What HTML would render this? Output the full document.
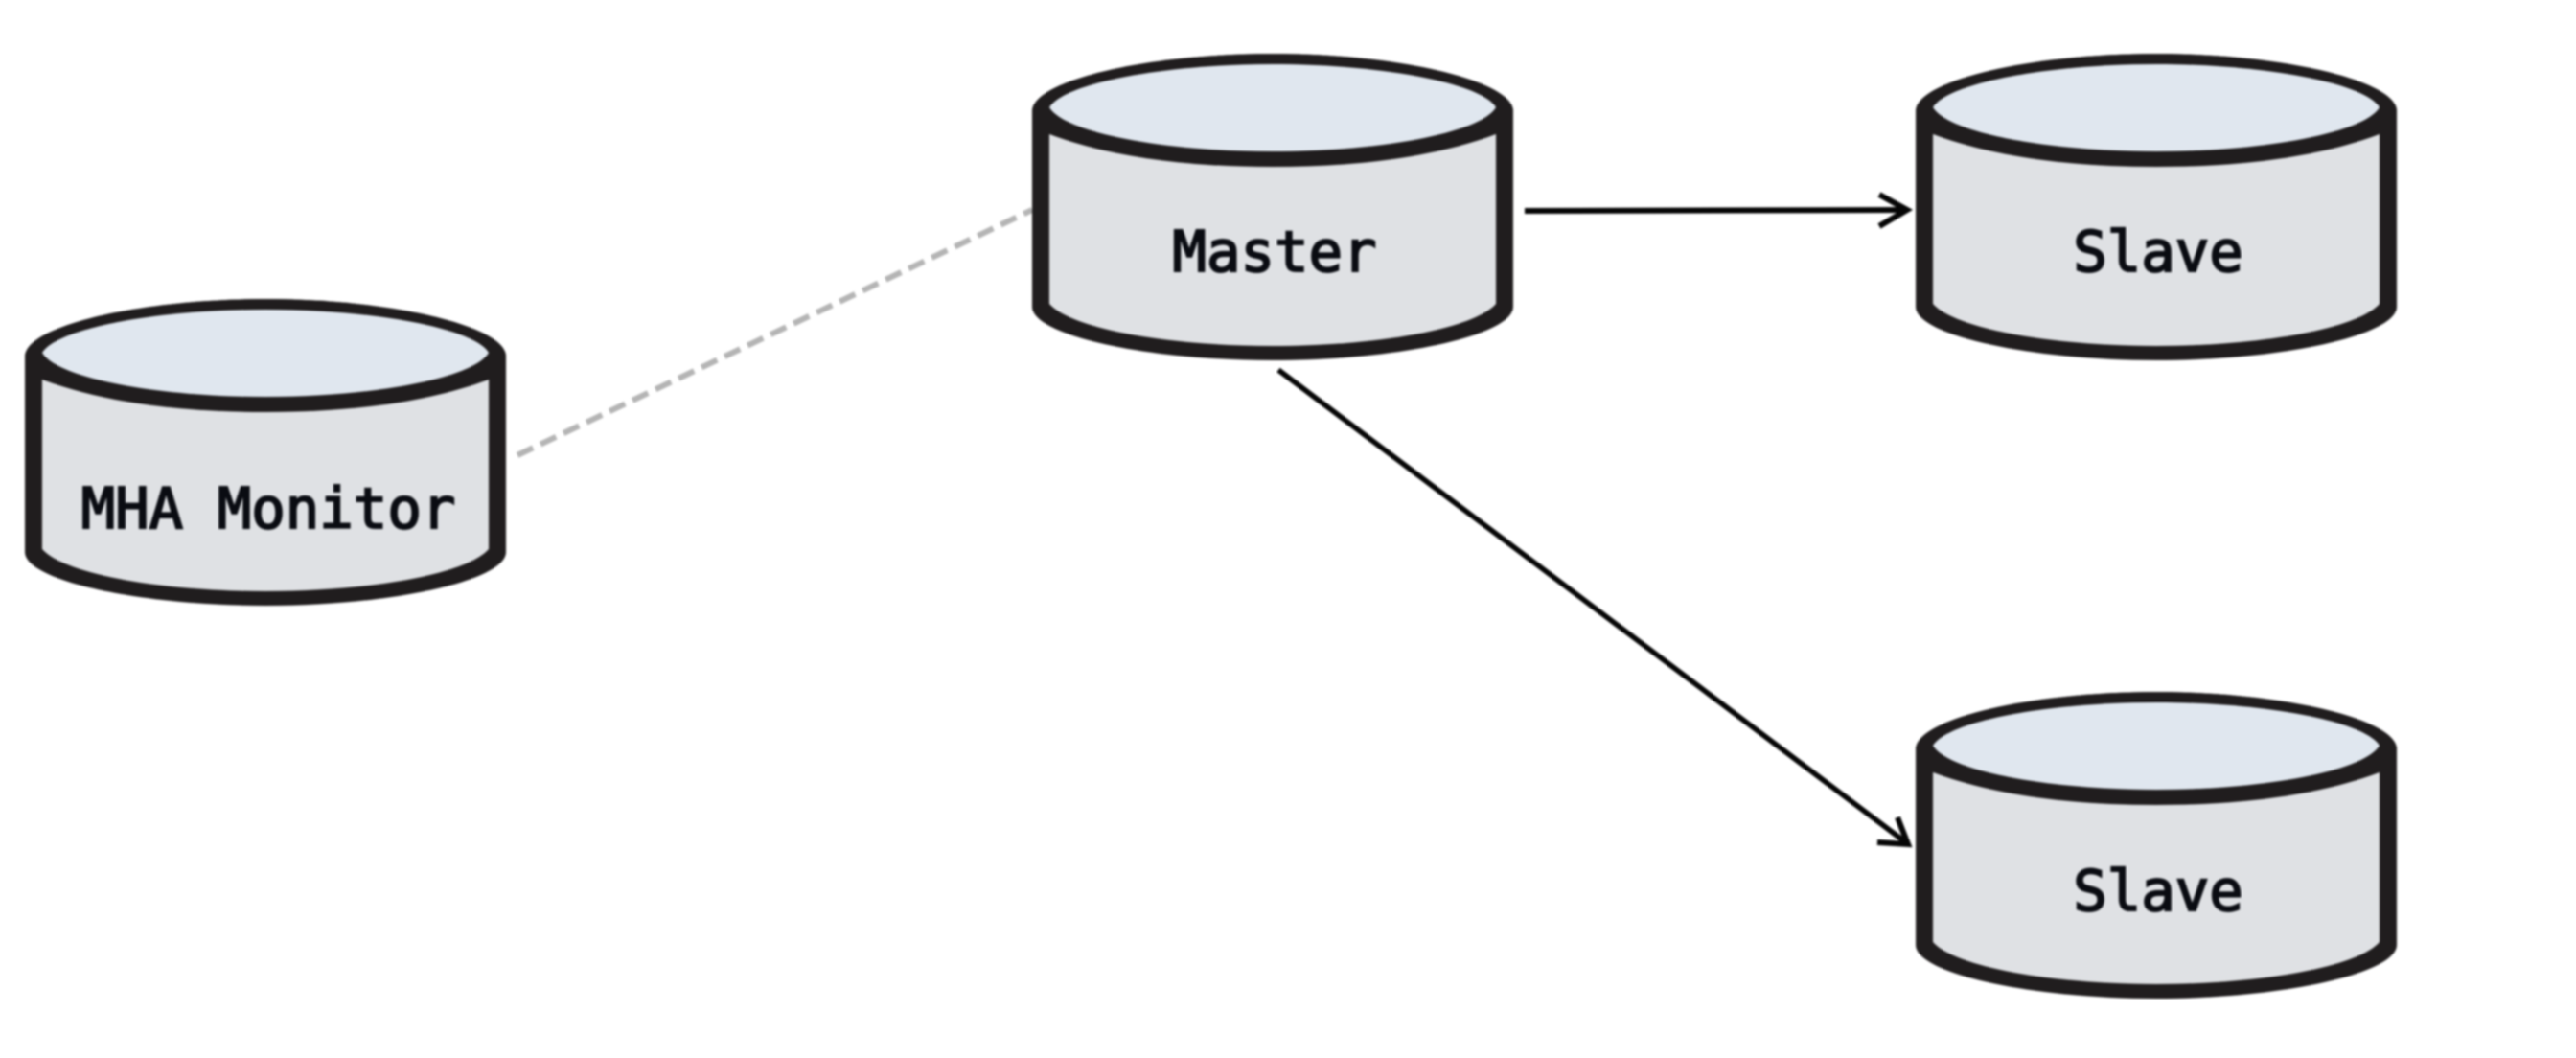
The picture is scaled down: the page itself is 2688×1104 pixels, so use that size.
<!DOCTYPE html>
<html>
<head>
<meta charset="utf-8">
<style>
html,body{margin:0;padding:0;background:#fff;width:2688px;height:1104px;overflow:hidden}
svg{display:block;filter:blur(1px)}
text{font-family:"DejaVu Sans Mono","Liberation Mono",monospace;font-size:59px;fill:#0a0c12;stroke:#0a0c12;stroke-width:2px;text-anchor:middle}
</style>
</head>
<body>
<svg width="2688" height="1104" viewBox="0 0 2688 1104" xmlns="http://www.w3.org/2000/svg">
<defs>
<g id="cyl">
<!-- outer silhouette -->
<path d="M0,60 C0,28 120,0 251,0 C382,0 502,28 502,60 V264 C502,294 382,320 251,320 C120,320 0,294 0,264 Z" fill="#201d1e"/>
<!-- body face -->
<path d="M18,60 H484 V261 C460,288 356,305 251,305 C146,305 42,288 18,261 Z" fill="#dfe1e4"/>
<!-- lower rim band of the top lid -->
<path d="M0,60 C0,28 120,0 251,0 C382,0 502,28 502,60 V70 L484,84 C420,108 340,118 251,118 C162,118 82,108 18,84 L0,70 Z" fill="#201d1e"/>
<!-- lid face -->
<path d="M18,56 C34,30 140,11 251,11 C362,11 468,30 484,56 C468,83 362,102 251,102 C140,102 34,83 18,56 Z" fill="#e0e7ef"/>
</g>
</defs>

<line x1="540" y1="475" x2="1077" y2="219" stroke="#b4b4b4" stroke-width="6" stroke-dasharray="18 8.6"/>
<line x1="1591" y1="220" x2="1989" y2="219" stroke="#050505" stroke-width="6"/>
<polyline points="1961,203 1990,219 1961,236" fill="none" stroke="#050505" stroke-width="6"/>
<line x1="1334" y1="386" x2="1990" y2="880" stroke="#050505" stroke-width="5.5"/>
<polyline points="1980,853 1991,881 1959,879" fill="none" stroke="#050505" stroke-width="6"/>

<use href="#cyl" x="26" y="312"/>
<use href="#cyl" x="1077" y="56"/>
<use href="#cyl" x="1999" y="56"/>
<use href="#cyl" x="1999" y="722"/>

<text x="280" y="551">MHA Monitor</text>
<text x="1330" y="283">Master</text>
<text x="2252" y="283">Slave</text>
<text x="2252" y="950">Slave</text>
</svg>
</body>
</html>
